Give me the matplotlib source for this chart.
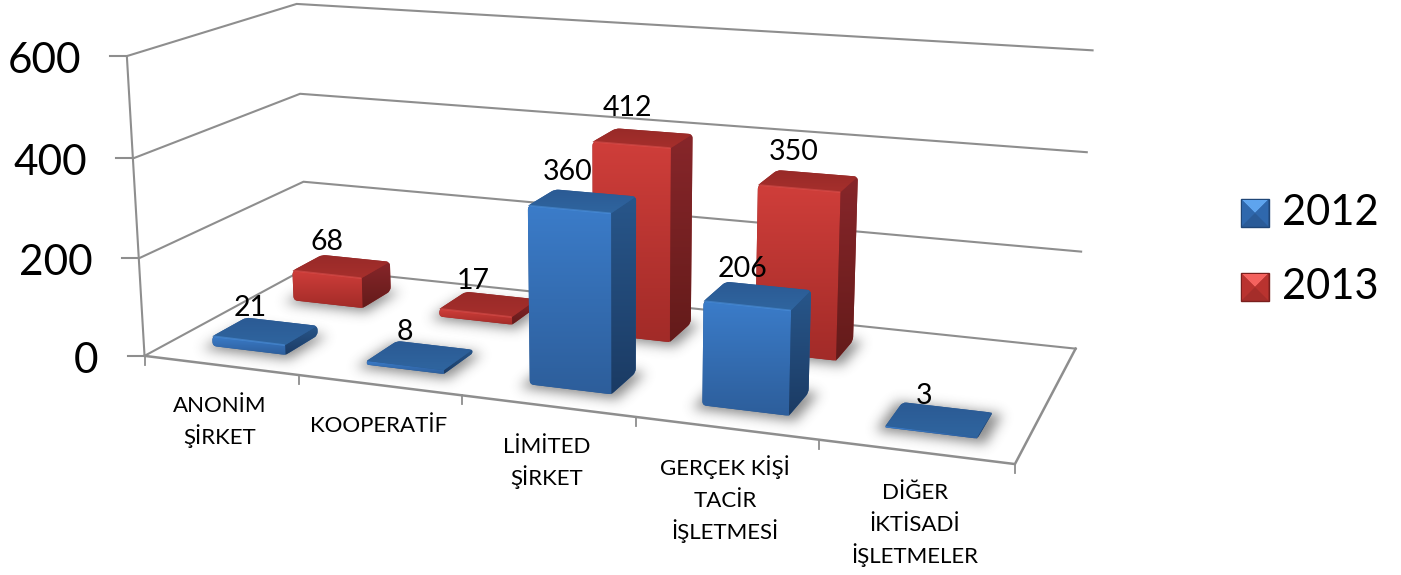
"""Turkish company counts 2012/2013 as an Excel-style 3D column chart."""

import matplotlib

matplotlib.use("Agg")
import matplotlib.pyplot as plt
import numpy as np
from matplotlib.patches import PathPatch
from matplotlib.path import Path

plt.rcParams["font.family"] = ["Lato", "DejaVu Sans"]

categories = ["ANONİM\nŞİRKET", "KOOPERATİF", "LİMİTED\nŞİRKET", "GERÇEK KİŞİ\nTACİR\nİŞLETMESİ", "DİĞER\nİKTİSADİ\nİŞLETMELER"]
values_2012 = [21, 8, 360, 206, 3]
values_2013 = [68, 17, 412, 350, None]
series_names = ["2012", "2013"]
yticks = [0, 200, 400, 600]

WIDTH, HEIGHT = 1401, 575
GRID = "#8e8e8e"
BAR_X = (0.275, 0.755)
BAR_Y = (0.30, 0.70)
BAR_SCALE = 0.97  # bevel eats a bit of the projected height

# (category, row, value) -> pixel calibration of the perspective box
calib = [
    ((0, 0, 0), (145, 355)), ((5, 0, 0), (1015, 465)), ((5, 2, 0), (1075, 347)), ((0, 2, 0), (307, 269)),
    ((0, 0, 200), (138, 258)), ((0, 0, 400), (133, 158)), ((0, 0, 600), (127, 57)),
    ((0, 2, 200), (303, 182)), ((0, 2, 400), (300, 94)), ((0, 2, 600), (297, 3)),
    ((5, 2, 200), (1082, 252)), ((5, 2, 400), (1087, 153)), ((5, 2, 600), (1092, 50)),
]


def fit_camera(points):
    rows, rhs = [], []
    for (x, y, z), (u, v) in points:
        rows.append([x, y, z / 100, 1, 0, 0, 0, 0, -u * x, -u * y, -u * z / 100])
        rows.append([0, 0, 0, 0, x, y, z / 100, 1, -v * x, -v * y, -v * z / 100])
        rhs += [u, v]
    return np.linalg.lstsq(np.array(rows, float), np.array(rhs, float), rcond=None)[0]


cam = fit_camera(calib)


def project(x, y, z):
    z = z / 100
    u = cam[0] * x + cam[1] * y + cam[2] * z + cam[3]
    v = cam[4] * x + cam[5] * y + cam[6] * z + cam[7]
    w = cam[8] * x + cam[9] * y + cam[10] * z + 1
    return u / w, v / w


fig = plt.figure(figsize=(WIDTH / 100, HEIGHT / 100), dpi=100)
ax = fig.add_axes([0, 0, 1, 1])
ax.axis("off")
order = [10]


def next_z():
    order[0] += 1
    return order[0]


def rounded_path(poly, radius, sharp=()):
    """Closed path through poly with quadratic corners, except the vertices listed in sharp."""
    poly = np.array(poly, float)
    n = len(poly)
    verts, codes = [], []
    for i in range(n):
        p, prev, nxt = poly[i], poly[i - 1], poly[(i + 1) % n]
        d0, d1 = np.linalg.norm(prev - p), np.linalg.norm(nxt - p)
        r = 0 if i in sharp else min(radius, d0 / 2.2, d1 / 2.2)
        a = p + (prev - p) / max(d0, 1e-6) * r
        b = p + (nxt - p) / max(d1, 1e-6) * r
        verts.append(a)
        codes.append(Path.MOVETO if i == 0 else Path.LINETO)
        verts += [p, b]
        codes += [Path.CURVE3, Path.CURVE3]
    verts.append(verts[0])
    codes.append(Path.CLOSEPOLY)
    return Path(verts, codes)


def gradient_face(poly, top, bottom, radius=4.0, sharp=()):
    poly = np.array(poly)
    c0, c1 = np.array(matplotlib.colors.to_rgb(top)), np.array(matplotlib.colors.to_rgb(bottom))
    t = np.linspace(0, 1, 64)[:, None, None]
    img = c0[None, None, :] * (1 - t) + c1[None, None, :] * t
    x0, x1, y0, y1 = poly[:, 0].min(), poly[:, 0].max(), poly[:, 1].min(), poly[:, 1].max()
    im = ax.imshow(img, extent=(x0, x1, y1, y0), aspect="auto", zorder=next_z(), interpolation="bilinear")
    patch = PathPatch(rounded_path(poly, radius, sharp), transform=ax.transData)
    im.set_clip_path(patch)


def blur(mask, sigma):
    r = int(3 * sigma)
    k = np.exp(-0.5 * (np.arange(-r, r + 1) / sigma) ** 2)
    k /= k.sum()
    mask = np.apply_along_axis(lambda m: np.convolve(m, k, mode="same"), 0, mask)
    return np.apply_along_axis(lambda m: np.convolve(m, k, mode="same"), 1, mask)


def draw_shadow(cat, row, sigma=6, alpha=0.6):
    x0, x1, y0, y1 = cat + BAR_X[0], cat + BAR_X[1], row + BAR_Y[0], row + BAR_Y[1]
    pts = [project(x0 - 0.04, y0 - 0.06, 0), project(x1 + 0.05, y0 - 0.06, 0),
           project(x1 + 0.05, y1 + 0.02, 0), project(x0 - 0.04, y1 + 0.02, 0)]
    pts = np.array(pts)
    pad = 30
    xa, xb = int(pts[:, 0].min()) - pad, int(pts[:, 0].max()) + pad
    ya, yb = int(pts[:, 1].min()) - pad, int(pts[:, 1].max()) + pad
    gx, gy = np.meshgrid(np.arange(xa, xb), np.arange(ya, yb))
    inside = Path(pts).contains_points(np.c_[gx.ravel(), gy.ravel()]).reshape(gx.shape)
    soft = blur(inside.astype(float), sigma)
    rgba = np.zeros(soft.shape + (4,))
    rgba[..., :3] = 0.25
    rgba[..., 3] = soft * alpha
    ax.imshow(rgba, extent=(xa, xb, yb, ya), aspect="auto", zorder=next_z(), interpolation="bilinear")


SERIES_STYLE = [
    dict(front=("#3b7cc9", "#2d5e9b"), side=("#28568a", "#1b3b64"), top=("#2b5a94", "#2f659f"), hi="#4f94e0"),
    dict(front=("#cf3e3a", "#a22b28"), side=("#87262a", "#641b1a"), top=("#982a28", "#a62f2c"), hi="#e05350"),
]


def draw_bar(cat, row, value, style):
    x0, x1, y0, y1 = cat + BAR_X[0], cat + BAR_X[1], row + BAR_Y[0], row + BAR_Y[1]
    h = value * BAR_SCALE
    fb0, fb1 = project(x0, y0, 0), project(x1, y0, 0)
    ft0, ft1 = project(x0, y0, h), project(x1, y0, h)
    bb1 = project(x1, y1, 0)
    bt0, bt1 = project(x0, y1, h), project(x1, y1, h)
    # silhouette underlay fills the small notches left by the rounded faces
    mid = (np.array(matplotlib.colors.to_rgb(style["side"][0])) + np.array(matplotlib.colors.to_rgb(style["front"][1]))) / 2
    ax.add_patch(PathPatch(rounded_path([fb0, fb1, bb1, bt1, bt0, ft0], 4.0), fc=mid, lw=0, zorder=next_z()))
    gradient_face([fb0, fb1, ft1, ft0], *style["front"], sharp=(1, 2))
    gradient_face([fb1, bb1, bt1, ft1], *style["side"], sharp=(0, 3))
    gradient_face([ft0, ft1, bt1, bt0], style["top"][0], style["top"][1], sharp=(0, 1))
    if fb0[1] - ft0[1] > 5:
        ax.plot([ft0[0] + 2, ft1[0] - 1], [ft0[1], ft1[1]], color=style["hi"], lw=1.2, alpha=0.55, zorder=next_z(),
                solid_capstyle="round")


def draw_frame():
    # wall gridlines, left and back
    for val in yticks:
        xs, ys = zip(project(0, 0, val), project(0, 2, val), project(5, 2, val))
        ax.plot(xs, ys, color=GRID, lw=1.5, zorder=2, solid_joinstyle="miter")
        px, py = project(0, 0, val)
        ax.plot([px - 17, px], [py, py], color=GRID, lw=1.5, zorder=2)
        ax.text(px - 46, py + 5, str(val), ha="right", va="center", fontsize=30.5)
    xs, ys = zip(project(0, 0, 0), project(0, 0, 600))
    ax.plot(xs, ys, color=GRID, lw=1.5, zorder=2)
    # floor outline
    xs, ys = zip(project(0, 0, 0), project(5, 0, 0), project(5, 2, 0))
    ax.plot(xs, ys, color=GRID, lw=1.8, zorder=2, solid_joinstyle="miter")
    # category ticks and labels, one text per line so the baselines stay evenly spaced
    for i in range(len(categories) + 1):
        px, py = project(i, 0, 0)
        ax.plot([px, px], [py, py + 9], color=GRID, lw=1.3, zorder=2)
    for i, name in enumerate(categories):
        px, py = project(i + 0.5, 0, 0)
        for k, line in enumerate(name.split("\n")):
            ax.text(px - 1, py + 47 + 32 * k, line, ha="center", va="baseline", fontsize=16)


def draw_legend():
    cols = [("#5ea4ee", "#2f68ad", "#2a5b98", "#1f4677"), ("#f4625e", "#b9332f", "#a52d2a", "#7a1f1d")]
    for i, (name, c) in enumerate(zip(series_names, cols)):
        x0, x1 = 1241, 1269
        y0 = 199 + i * 74
        y1 = y0 + 28
        mx, my = (x0 + x1) / 2, (y0 + y1) / 2
        z = next_z()
        ax.fill([x0, x1, x1, x0], [y0, y0, y1, y1], fc=c[2], ec=c[3], lw=1.0, zorder=z)
        ax.fill([x0 + 1, x1 - 1, mx], [y0 + 1, y0 + 1, my], color=c[0], lw=0, zorder=z + 0.1)
        ax.fill([x0 + 1, mx, x0 + 1], [y0 + 1, my, y1 - 1], color=c[1], lw=0, zorder=z + 0.1)
        ax.fill([x1 - 1, mx, x1 - 1], [y0 + 1, my, y1 - 1], color=c[1], lw=0, zorder=z + 0.1)
        ax.text(1282, (y0 + y1) / 2, name, ha="left", va="center", fontsize=30)


draw_frame()

series = [values_2012, values_2013]
bars = []
for row in (1, 0):
    for cat, value in enumerate(series[row]):
        if value is not None:
            bars.append((cat, row, value))

for cat, row, value in bars:
    draw_shadow(cat, row)
for cat, row, value in bars:
    draw_bar(cat, row, value, SERIES_STYLE[row])
for cat, row, value in bars:
    px, py = project(cat + sum(BAR_X) / 2, row + 0.5, value * BAR_SCALE)
    ax.text(px - 15, py - 23 - value * 0.018, str(value), ha="center", va="center", fontsize=20.5, zorder=900)

draw_legend()

ax.set_xlim(0, WIDTH)
ax.set_ylim(HEIGHT, 0)
fig.savefig("out.png", dpi=100, facecolor="white")
